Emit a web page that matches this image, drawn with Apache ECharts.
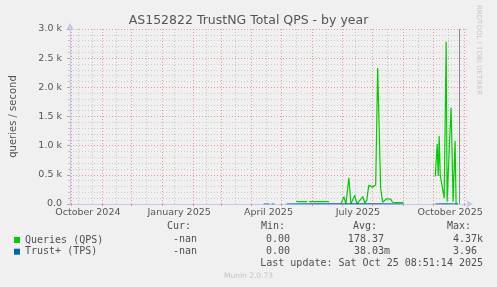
<!DOCTYPE html>
<html><head><meta charset="utf-8">
<script src="https://cdn.jsdelivr.net/npm/echarts@6/dist/echarts.min.js"></script>
<style>html,body{margin:0;padding:0;background:#f0f0f0}#c{width:497px;height:287px}</style>
</head><body><div id="c"></div>
<script>
const chartTitle = 'AS152822 TrustNG Total QPS - by year';
const yAxisName = 'queries / second';
const seriesNames = ['Queries (QPS)', 'Trust+ (TPS)'];
const qpsDates = ['2025-05-16','2025-05-27','2025-05-28','2025-05-29','2025-06-18','2025-06-19',
  '2025-06-30','2025-07-02','2025-07-03','2025-07-05','2025-07-08','2025-07-10','2025-07-12','2025-07-14',
  '2025-07-16','2025-07-18','2025-07-20','2025-07-22','2025-07-24','2025-07-26','2025-07-28','2025-07-30',
  '2025-08-01','2025-08-03','2025-08-04','2025-08-06','2025-08-09','2025-08-11','2025-08-13','2025-08-15',
  '2025-08-17','2025-08-19','2025-08-21','2025-08-25','2025-08-29','2025-09-01','2025-09-02',
  '2025-10-03','2025-10-04','2025-10-05','2025-10-06','2025-10-07','2025-10-08','2025-10-10','2025-10-12',
  '2025-10-14','2025-10-15','2025-10-17','2025-10-19','2025-10-21','2025-10-23','2025-10-24','2025-10-26'];
const qpsValues = [40,40,null,40,40,null,
  0,20,125,0,450,0,10,150,
  0,40,20,125,20,60,320,310,
  290,300,330,2330,270,30,40,90,
  80,85,30,25,25,25,null,
  470,480,1030,480,1165,500,480,100,
  2780,40,900,1650,40,1080,0,0];
const tpsDates = ['2025-04-13','2025-04-19','2025-04-20','2025-04-21','2025-04-24','2025-04-25',
  '2025-05-06','2025-06-01','2025-07-15','2025-08-06','2025-09-01','2025-09-02',
  '2025-10-03','2025-10-14','2025-10-26'];
const tpsValues = [0,0,null,0,0,null,
  0,0.5,2,3.96,0,null,
  0,1,0];
const xMin = '2024-09-30';
const xMax = '2025-11-04';
const xLabelDates = ['2024-10-18','2025-01-18','2025-04-18','2025-07-17','2025-10-18'];
const xLabelTexts = ['October 2024','January 2025','April 2025','July 2025','October 2025'];
const monthStarts = ['2024-10-01','2024-11-01','2024-12-01','2025-01-01','2025-02-01','2025-03-01',
  '2025-04-01','2025-05-01','2025-06-01','2025-07-01','2025-08-01','2025-09-01','2025-10-01','2025-11-01'];
const minorVLines = ['2024-10-08','2024-10-22','2024-11-16','2024-12-16','2025-01-13','2025-02-14',
  '2025-03-15','2025-04-16','2025-05-16','2025-06-15','2025-07-14','2025-08-16','2025-09-16','2025-10-16'];
const nowLineDate = '2025-10-27';
const yMin = 0, yMax = 3000, yStep = 500;
const statHeaders = ['Cur:','Min:','Avg:','Max:'];
const statsQps = ['-nan','0.00','178.37 ','4.37k'];
const statsTps = ['-nan','0.00','38.03m','3.96 '];
const lastUpdate = 'Last update: Sat Oct 25 08:51:14 2025';
const watermark = 'RRDTOOL / TOBI OETIKER';
const footer = 'Munin 2.0.73';

const colors = ['#00cc00', '#0066b3'];
const axisColor = '#c4c8ea';
const ts = d => +new Date(d + 'T00:00:00');
const labelMap = {};
xLabelDates.forEach((d, i) => { labelMap[ts(d)] = xLabelTexts[i]; });

const gridMarks = [];
minorVLines.forEach(d => gridMarks.push({ xAxis: ts(d), lineStyle: { color: 'rgba(150,150,150,0.45)', type: [1, 2], width: 1 } }));
monthStarts.forEach(d => gridMarks.push({ xAxis: ts(d), lineStyle: { color: 'rgba(240,120,120,0.75)', type: [1, 2], width: 1 } }));
gridMarks.push({ xAxis: ts(nowLineDate), lineStyle: { color: '#8a8a8a', type: 'solid', width: 1 } });

const mono = 'DejaVu Sans Mono';
const headerX = [167, 261, 353, 447];
const valueRight = [197, 290, 390, 483];
const graphics = [];
statHeaders.forEach((h, i) => graphics.push({ type: 'text', x: headerX[i], y: 221.5, style: { text: h, font: '10px "' + mono + '"', fill: '#505050' } }));
[statsQps, statsTps].forEach((row, r) => row.forEach((v, i) => graphics.push({ type: 'text', x: valueRight[i], y: 234 + r * 12.7, style: { text: v, font: '10px "' + mono + '"', fill: '#505050', textAlign: 'right' } })));
graphics.push({ type: 'text', x: 483, y: 258, style: { text: lastUpdate, font: '10px "' + mono + '"', fill: '#505050', textAlign: 'right' } });
graphics.push({ type: 'text', x: 248.5, y: 272, style: { text: footer, font: '7.5px "DejaVu Sans"', fill: '#c4c4c4', textAlign: 'center' } });
graphics.push({ type: 'text', x: 482, y: 5, rotation: -Math.PI / 2, style: { text: watermark, font: '7px "DejaVu Sans"', fill: '#c8c8c8' } });

const chart = echarts.init(document.getElementById('c'), null, { renderer: 'canvas' });
chart.setOption({
  backgroundColor: '#f0f0f0',
  animation: false,
  color: colors,
  title: { text: chartTitle, left: 'center', top: 9, textStyle: { fontFamily: 'DejaVu Sans', fontSize: 12.5, fontWeight: 'normal', color: '#555' } },
  legend: {
    orient: 'vertical', left: 14, top: 235, padding: 0, itemWidth: 6, itemHeight: 6, itemGap: 1.7,
    icon: 'rect',
    textStyle: { fontFamily: mono, fontSize: 10, color: '#505050' },
    data: seriesNames
  },
  grid: { left: 67, right: 30, top: 29, bottom: 83, show: false },
  xAxis: {
    type: 'value', min: ts(xMin), max: ts(xMax),
    axisLine: { lineStyle: { color: axisColor, width: 1 }, symbol: ['none', 'arrow'], symbolSize: [6, 7], symbolOffset: [0, 6] },
    axisTick: { show: true, length: 2, lineStyle: { color: 'rgba(240,120,120,0.8)' }, customValues: monthStarts.map(ts) },
    axisLabel: {
      customValues: xLabelDates.map(ts), margin: 4, showMinLabel: true, showMaxLabel: true,
      formatter: v => labelMap[v] || '',
      fontFamily: 'DejaVu Sans', fontSize: 9.5, color: '#555'
    },
    splitLine: { show: false }
  },
  yAxis: {
    type: 'value', min: yMin, max: yMax, interval: yStep,
    name: yAxisName, nameLocation: 'middle', nameGap: 52,
    nameTextStyle: { fontFamily: 'DejaVu Sans', fontSize: 10, color: '#555' },
    axisLine: { show: true, lineStyle: { color: axisColor, width: 1 }, symbol: ['none', 'arrow'], symbolSize: [6, 7], symbolOffset: [0, 6] },
    axisTick: { show: true, length: 3, lineStyle: { color: '#aaa' } },
    minorTick: { show: true, splitNumber: 5, length: 2, lineStyle: { color: '#c4c4c4' } },
    axisLabel: { margin: 8, fontFamily: 'DejaVu Sans', fontSize: 9.5, color: '#555',
      formatter: v => v === 0 ? '0.0' : (v / 1000).toFixed(1) + ' k' },
    splitLine: { show: true, lineStyle: { color: 'rgba(240,120,120,0.75)', type: [1, 2] } },
    minorSplitLine: { show: true, lineStyle: { color: 'rgba(150,150,150,0.4)', type: [1, 2] } }
  },
  graphic: graphics,
  series: [
    { type: 'line', name: '_grid', data: [], z: 1, silent: true,
      markLine: { silent: true, symbol: ['none', 'none'], label: { show: false }, animation: false, data: gridMarks } },
    { type: 'line', name: seriesNames[0], z: 3, data: qpsDates.map((d, i) => [ts(d), qpsValues[i]]),
      showSymbol: false, symbol: 'none', lineStyle: { width: 1.2, color: colors[0] }, itemStyle: { color: colors[0] } },
    { type: 'line', name: seriesNames[1], z: 4, data: tpsDates.map((d, i) => [ts(d), tpsValues[i]]),
      showSymbol: false, symbol: 'none', lineStyle: { width: 1.2, color: colors[1] }, itemStyle: { color: colors[1] } }
  ]
});
</script></body></html>
